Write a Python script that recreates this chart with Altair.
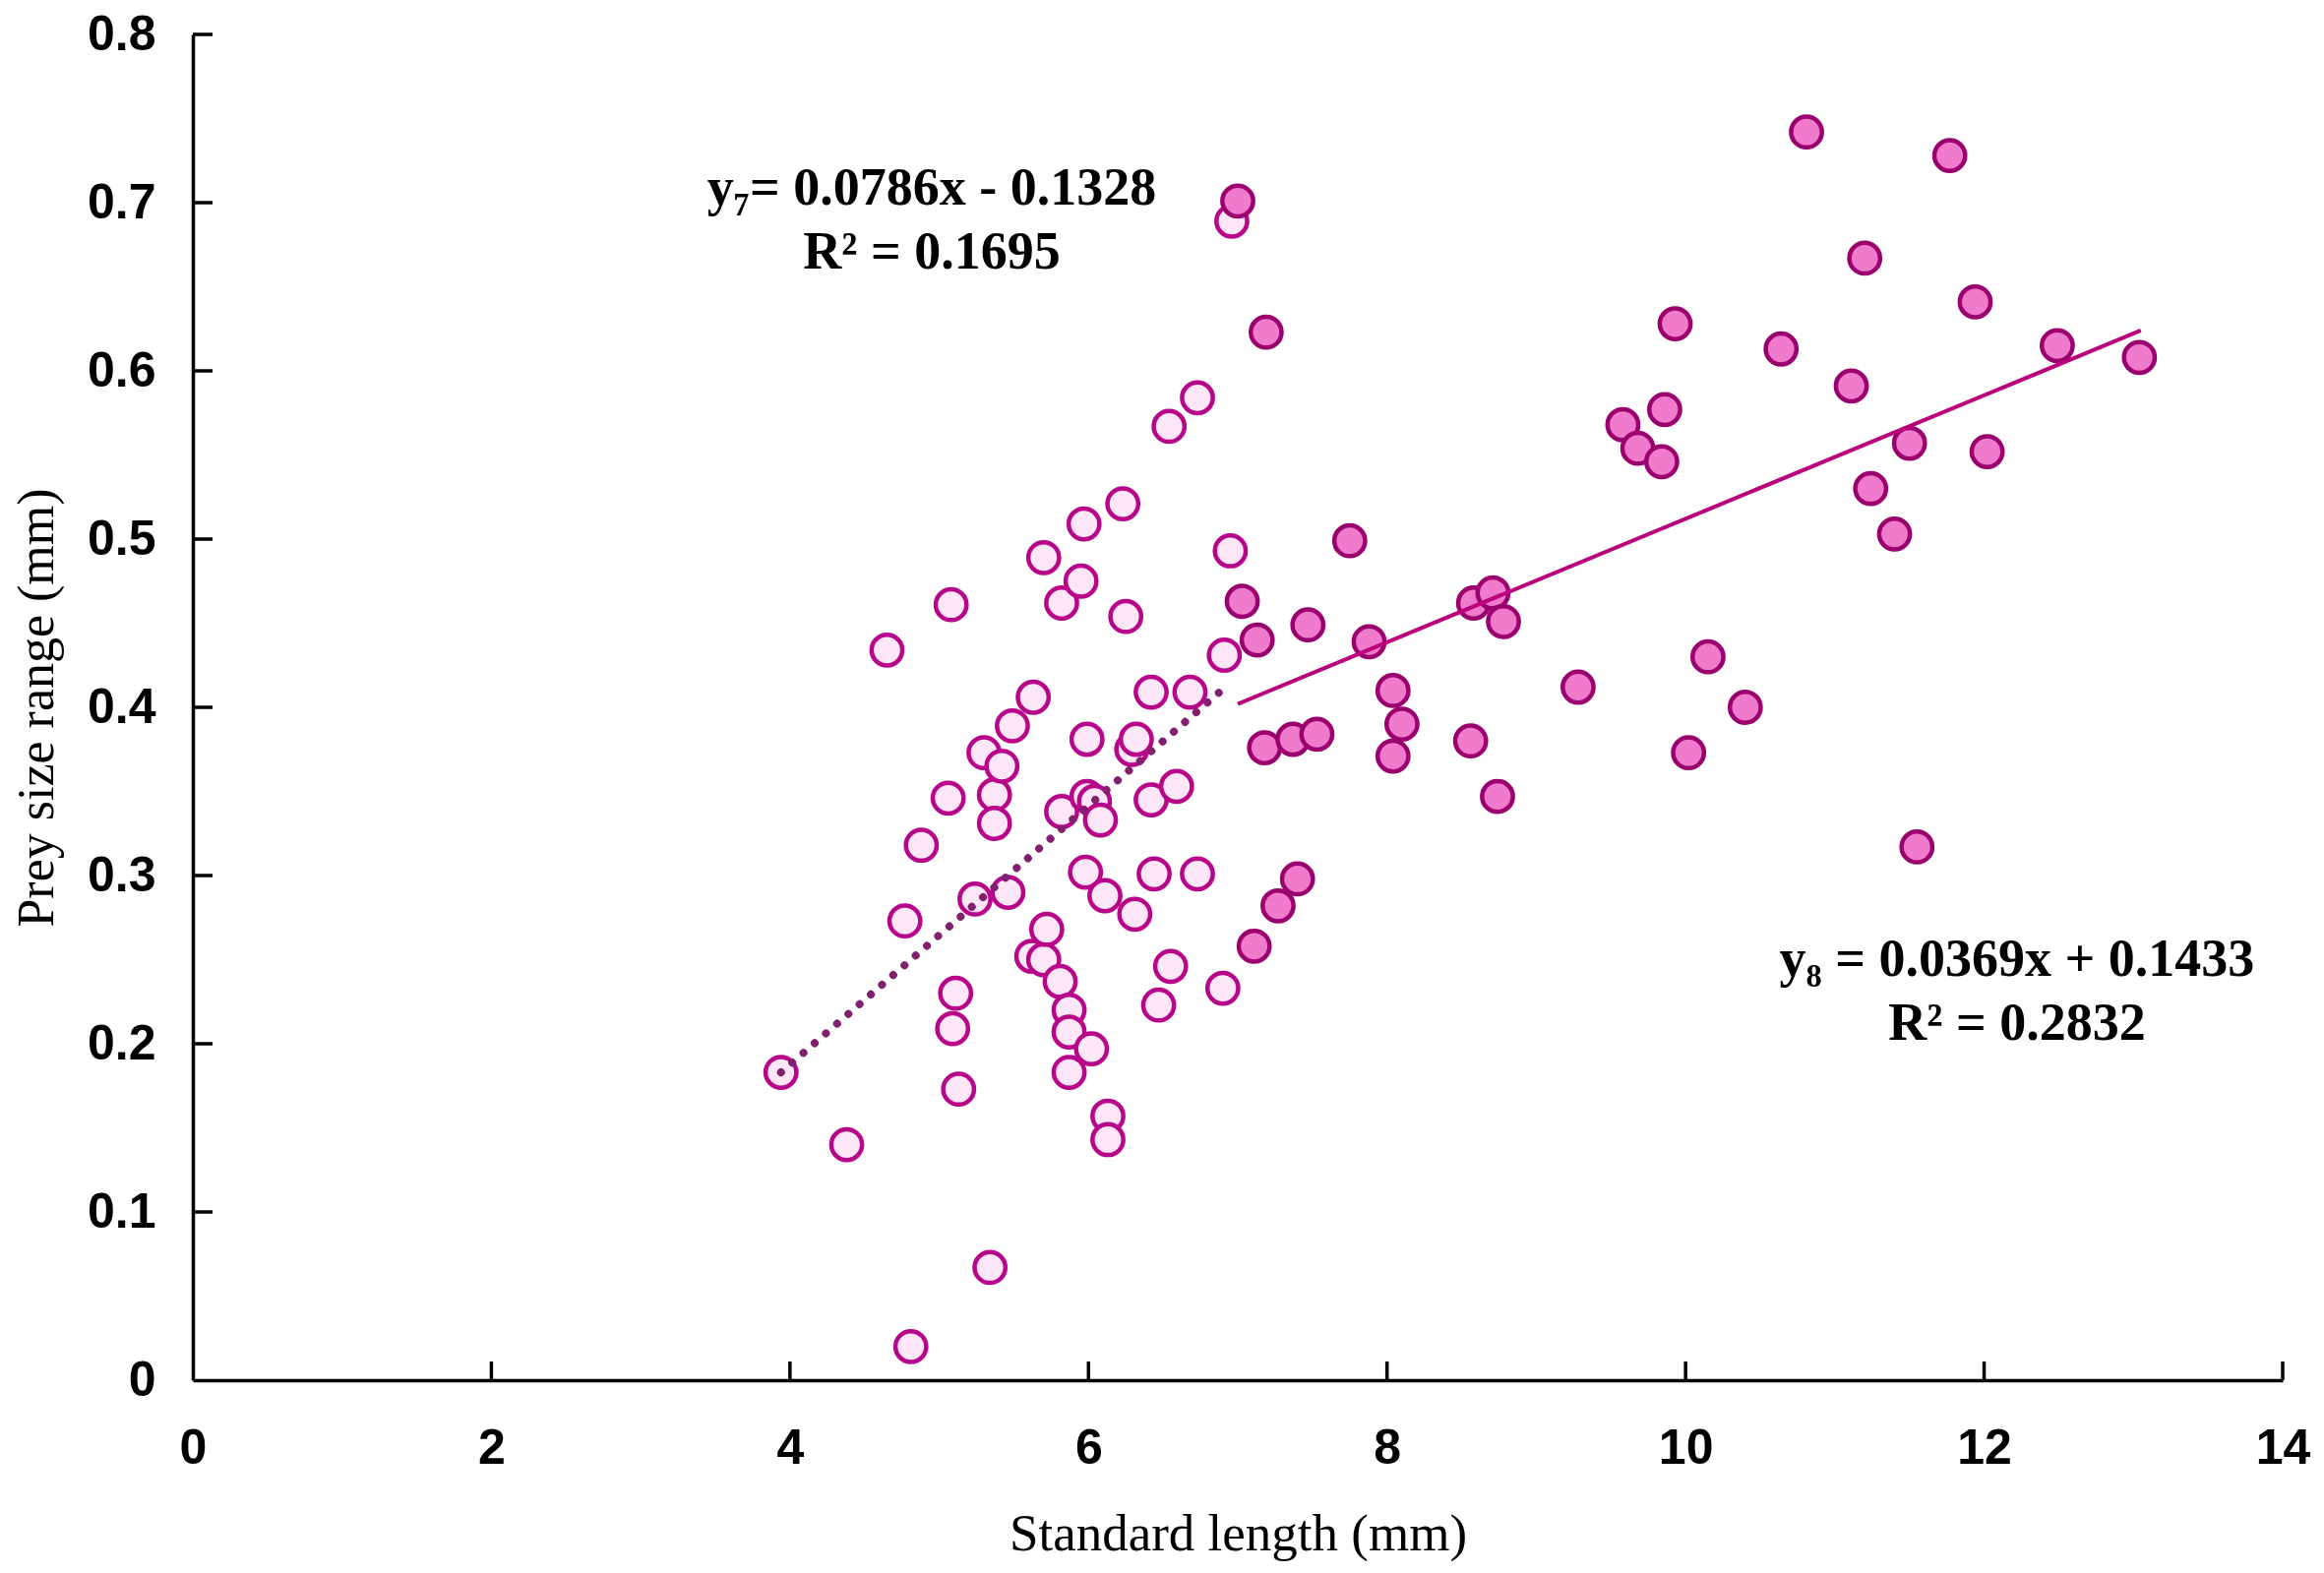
import altair as alt
import pandas as pd

# ---- data ----
open_x = [3.94, 4.38, 4.65, 4.77, 4.81, 4.88, 5.08, 5.06, 5.11, 5.09, 5.13, 5.24, 5.30,
          5.37, 5.37, 5.42, 5.34, 5.49, 5.46, 5.63, 5.70, 5.62, 5.70, 5.72, 5.81, 5.82,
          5.82, 5.87, 5.87, 5.87, 5.95, 5.97, 5.99, 5.99, 6.04, 5.98, 6.02, 6.08, 6.11,
          6.13, 6.13, 6.23, 6.25, 6.29, 6.32, 6.31, 6.42, 6.42, 6.44, 6.47, 6.54, 6.55,
          6.59, 6.73, 6.68, 6.73, 6.91, 6.95, 6.90, 6.96]
open_y = [0.183, 0.140, 0.434, 0.273, 0.020, 0.318, 0.461, 0.346, 0.230, 0.209, 0.173,
          0.286, 0.373, 0.348, 0.331, 0.365, 0.067, 0.389, 0.290, 0.406, 0.489, 0.252,
          0.250, 0.268, 0.237, 0.462, 0.338, 0.220, 0.207, 0.183, 0.475, 0.509, 0.381,
          0.347, 0.344, 0.302, 0.197, 0.333, 0.288, 0.157, 0.143, 0.521, 0.454, 0.375,
          0.381, 0.277, 0.409, 0.345, 0.301, 0.223, 0.567, 0.246, 0.353, 0.584, 0.409,
          0.301, 0.431, 0.493, 0.233, 0.689]

filled_x = [7.00, 7.03, 7.13, 7.11, 7.19, 7.18, 7.27, 7.37, 7.40, 7.47, 7.53, 7.75,
            7.88, 8.04, 8.04, 8.10, 8.58, 8.71, 8.78, 8.56, 8.74, 9.28, 9.58, 9.68,
            9.84, 9.86, 9.93, 10.02, 10.15, 10.40, 10.64, 10.81, 11.11, 11.20, 11.24,
            11.40, 11.50, 11.55, 11.77, 11.94, 12.02, 12.49, 13.04]
filled_y = [0.701, 0.463, 0.440, 0.258, 0.623, 0.376, 0.282, 0.381, 0.298, 0.449,
            0.384, 0.499, 0.439, 0.410, 0.371, 0.390, 0.462, 0.468, 0.451, 0.380,
            0.347, 0.412, 0.568, 0.554, 0.546, 0.577, 0.628, 0.373, 0.430, 0.400,
            0.613, 0.742, 0.591, 0.667, 0.530, 0.503, 0.557, 0.317, 0.728, 0.641,
            0.552, 0.615, 0.608]

# trend line end points
fit7_x = [3.94, 6.89]
fit7_y = [0.183, 0.410]
fit8_x = [7.00, 13.05]
fit8_y = [0.402, 0.624]

x_ticks = [0, 2, 4, 6, 8, 10, 12, 14]
y_ticks = [0, 0.1, 0.2, 0.3, 0.4, 0.5, 0.6, 0.7, 0.8]

eq_text = ["y\u2087= 0.0786x - 0.1328", "R\u00b2 = 0.1695",
           "y\u2088 = 0.0369x + 0.1433", "R\u00b2 = 0.2832"]
eq_x = [4.95, 4.95, 12.22, 12.22]
eq_y = [0.708, 0.670, 0.250, 0.2115]

W, H = 2124, 1368

open_df = pd.DataFrame({"x": open_x, "y": open_y})
filled_df = pd.DataFrame({"x": filled_x, "y": filled_y})
fit7_df = pd.DataFrame({"x": fit7_x, "y": fit7_y})
fit8_df = pd.DataFrame({"x": fit8_x, "y": fit8_y})
eq_df = pd.DataFrame({"x": eq_x, "y": eq_y, "t": eq_text})
xt_df = pd.DataFrame({"x": x_ticks[1:]})
yt_df = pd.DataFrame({"y": y_ticks[1:]})

xs = alt.Scale(domain=[0, 14], nice=False, zero=False)
ys = alt.Scale(domain=[0, 0.8], nice=False, zero=False)

x_axis = alt.Axis(values=x_ticks, format="d", grid=False, ticks=False,
                  domainColor="black", domainWidth=3.5, labelFlush=False,
                  labelFont="Liberation Sans", labelFontWeight="bold", labelFontSize=50,
                  labelColor="black", labelPadding=44,
                  title="Standard length (mm)", titleFont="Liberation Serif",
                  titleFontWeight="normal", titleFontSize=53, titleColor="black",
                  titleBaseline="alphabetic", titleY=172)
y_axis = alt.Axis(values=y_ticks, format="~g", grid=False, ticks=False,
                  domainColor="black", domainWidth=3.5, labelFlush=False,
                  labelFont="Liberation Sans", labelFontWeight="bold", labelFontSize=50,
                  labelColor="black", labelPadding=38,
                  title="Prey size range (mm)", titleFont="Liberation Serif",
                  titleFontWeight="normal", titleFontSize=52, titleColor="black",
                  titleBaseline="alphabetic", titleX=-143)

X = alt.X("x:Q", scale=xs, axis=x_axis)
Y = alt.Y("y:Q", scale=ys, axis=y_axis)

open_pts = alt.Chart(open_df).mark_point(
    shape="circle", filled=False, fill="#fde6f7", fillOpacity=1,
    stroke="#b8068a", strokeWidth=4.5, size=980, opacity=1
).encode(x=X, y=Y)

filled_pts = alt.Chart(filled_df).mark_point(
    shape="circle", filled=False, fill="#f07acb", fillOpacity=1,
    stroke="#9a006e", strokeWidth=4.5, size=980, opacity=1
).encode(x=X, y=Y)

fit7 = alt.Chart(fit7_df).mark_line(
    color="#80206f", strokeWidth=8, strokeDash=[0.1, 15], strokeCap="round"
).encode(x=X, y=Y)

fit8 = alt.Chart(fit8_df).mark_line(
    color="#bb007c", strokeWidth=4
).encode(x=X, y=Y)

xticks = alt.Chart(xt_df).mark_rule(color="black", strokeWidth=3.5).encode(
    x=X, y=alt.value(H), y2=alt.value(H - 19))
yticks = alt.Chart(yt_df).mark_rule(color="black", strokeWidth=3.5).encode(
    y=Y, x=alt.value(0), x2=alt.value(20))

eqs = alt.Chart(eq_df).mark_text(
    font="Liberation Serif", fontWeight="bold", fontSize=54, color="black",
    align="center", baseline="middle"
).encode(x=X, y=Y, text="t:N")

chart = alt.layer(open_pts, fit7, filled_pts, fit8, xticks, yticks, eqs).properties(
    width=W, height=H,
    autosize=alt.AutoSizeParams(type="none"),
    padding={"left": 188, "top": 27, "right": 32, "bottom": 188},
    background="white",
).configure_view(stroke=None)

chart.save("out.html", embed_options={"renderer": "svg", "actions": False})
